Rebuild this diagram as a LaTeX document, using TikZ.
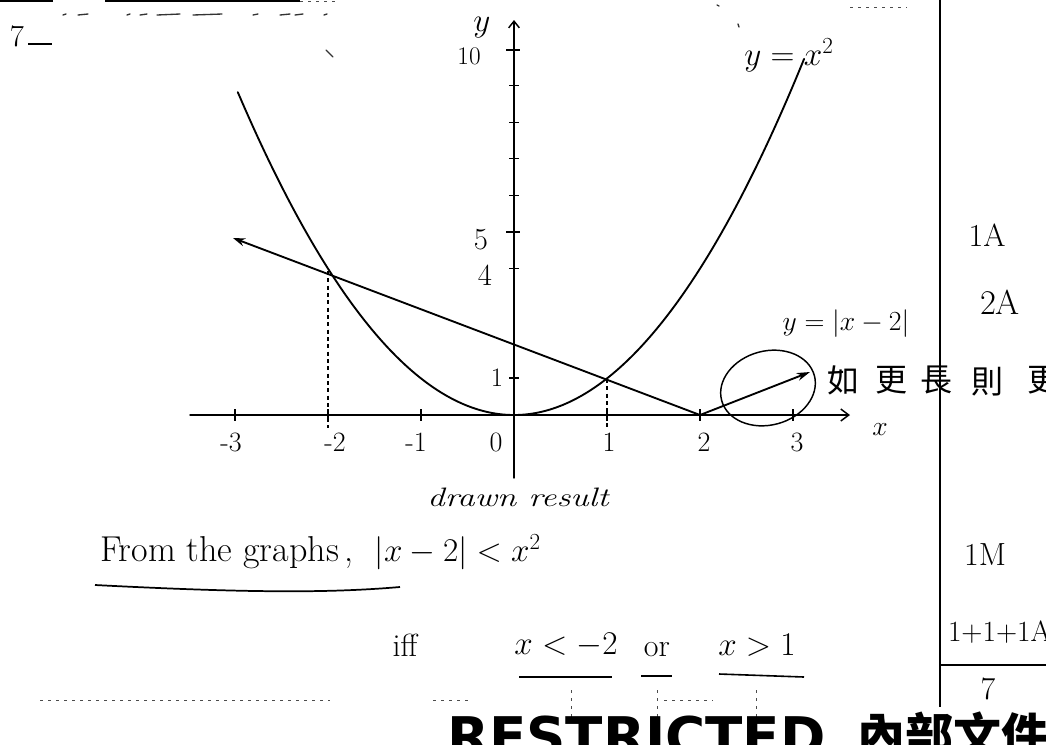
\documentclass[tikz,border=0pt]{standalone}
\usepackage{fontspec}
\newfontfamily\cjk{Noto Sans CJK TC}
\newfontfamily\rfont{DejaVu Sans}
\usetikzlibrary{arrows.meta}
\newcommand\hsz[1]{\fontsize{#1}{#1}\selectfont}
\begin{document}
\begin{tikzpicture}[x=0.75pt,y=-0.75pt,
  ink/.style={line width=1.4pt,line cap=round,line join=round},
  axisline/.style={line width=1.1pt,line cap=round},
  tickline/.style={line width=0.9pt},
  dashv/.style={line width=0.8pt,dash pattern=on 3pt off 2.5pt},
  noise/.style={line width=0.7pt,black!70,dash pattern=on 2pt off 4pt},
  speck/.style={line width=1pt,black!80,line cap=round},
  txt/.style={inner sep=0pt,outer sep=0pt},
]
\fill[white] (0,0) rectangle (1046,744);
\useasboundingbox (0,0) rectangle (1046,744);

% top rules and scanning specks
\draw[line width=1.6pt] (0,1) -- (53,1);
\draw[line width=1.6pt] (105,1) -- (300,1);
\draw[noise] (300,1) -- (335,1);
\foreach \a/\b in {63/66,78/88,127/130,140/147,157/180,193/222,253/258,280/290,295/303,324/327}
  \draw[speck] (\a,15) -- (\b,14);
\draw[speck] (326,50) -- (333,57);
\draw[speck] (717,5) -- (719,6);
\draw[speck] (738,24) -- (739,27);
\draw[noise] (850,7) -- (907,7);
\node[txt,font=\hsz{23}] (seven) at (17,36) {7};
\coordinate (su1) at (28,44); \coordinate (su2) at (52,44);
\draw[line width=1.2pt] (su1) -- (su2);

% axes
\coordinate (O) at (514,415);
\coordinate (xl) at (190,415); \coordinate (xr) at (850,415);
\coordinate (yb) at (514,478); \coordinate (yt) at (514,20);
\draw[axisline,-{Straight Barb[length=6pt,width=9pt]}] (xl) -- (xr);
\draw[axisline,-{Straight Barb[length=5pt,width=8pt]}] (yb) -- (yt);
\foreach \i in {-3,-2,-1,1,2,3} \draw[tickline] ({514+93*\i},409) -- ({514+93*\i},421);
\foreach \v in {4,6,7,8,9} \draw[tickline] (509,{415-36.6*\v}) -- (519,{415-36.6*\v});
\draw[tickline] (506,50) -- (520,50);
\draw[tickline] (506,232) -- (520,232);
\draw[tickline] (509,378) -- (519,378);

% axis labels
\node[txt,font=\hsz{21}] (lx1) at (231,442) {-3};
\node[txt,font=\hsz{21}] (lx2) at (335,442) {-2};
\node[txt,font=\hsz{21}] (lx3) at (416,442) {-1};
\node[txt,font=\hsz{21}] (lx4) at (496,442) {0};
\node[txt,font=\hsz{21}] (lx5) at (609,442) {1};
\node[txt,font=\hsz{21}] (lx6) at (704,442) {2};
\node[txt,font=\hsz{21}] (lx7) at (797,442) {3};
\node[txt,font=\hsz{22}] (xlab) at (880,430) {$x$};
\node[txt,font=\hsz{19}] (ten) at (469,56) {10};
\node[txt,font=\hsz{24}] (ylab) at (482,28) {$y$};
\node[txt,font=\hsz{23}] (five) at (481,240) {5};
\node[txt,font=\hsz{23}] (four) at (485,275) {4};
\node[txt,font=\hsz{20}] (one) at (497,378) {1};

% parabola
\draw[ink] plot[domain=-2.97:3.12,samples=90,smooth] ({514+93*\x},{415-36.6*\x*\x});
\node[txt,font=\hsz{25}] (lpar) at (789,55) {$y=x^2$};

% y = |x-2|
\coordinate (L1) at (233,238);
\coordinate (V) at (700,415);
\coordinate (L2) at (810,372);
\draw[ink,{Stealth[length=9pt,width=6pt]}-] (L1) -- (V);
\draw[ink,-{Stealth[length=10pt,width=6pt]}] (V) -- (L2);
\node[txt,font=\hsz{22}] (labs) at (846,324) {$y=|x-2|$};
\draw[line width=1.1pt,rotate around={15:(768,388)}] (768,388) ellipse [x radius=48,y radius=37];

% dashed drops
\coordinate (P1) at (328,271); \coordinate (P1b) at (328,428);
\coordinate (P2) at (607,379); \coordinate (P2b) at (607,428);
\draw[dashv] (P1) -- (P1b);
\draw[dashv] (P2) -- (P2b);

% marker comment
\node[txt,font=\cjk\hsz{24}] (c1) at (843,380) {如};
\node[txt,font=\cjk\hsz{24}] (c2) at (891,380) {更};
\node[txt,font=\cjk\hsz{24}] (c3) at (936,380) {長};
\node[txt,font=\cjk\hsz{24}] (c4) at (987,382) {則};
\node[txt,font=\cjk\hsz{24}] (c5) at (1043,380) {更};

% right column
\draw[line width=1.2pt] (940,0) -- (940,707);
\node[txt,font=\hsz{24}] (m1) at (987,235) {1A};
\node[txt,font=\hsz{26}] (m2) at (1000,302) {2A};
\node[txt,font=\hsz{24}] (m3) at (985,555) {1M};
\node[txt,font=\hsz{22},anchor=west] (m4) at (948,632) {1+1+1A};
\draw[line width=1.2pt] (940,665) -- (1046,665);
\node[txt,font=\hsz{24}] (m5) at (988,689) {7};

% working text
\node[txt,font=\itshape\hsz{20}] (drawn) at (518,497) {\scalebox{1.3}[1]{drawn result}};
\node[txt,font=\hsz{27},anchor=west] (from) at (100,552) {From the graphs\,,\; {\hsz{25}$|x-2|<x^2$}};
\draw[line width=1.3pt] (95,585) .. controls (250,593) and (330,593) .. (400,587);
\node[txt,font=\hsz{24}] (iff) at (405,645) {iff};
\node[txt,font=\hsz{24}] (s1) at (566,645) {$x<-2$};
\node[txt,font=\hsz{24}] (s2) at (657,650) {or};
\node[txt,font=\hsz{24}] (s3) at (757,645) {$x>1$};
\draw[line width=1.2pt] (519,677) -- (612,677);
\draw[line width=1.2pt] (641,676) -- (672,676);
\draw[line width=1.2pt] (719,674) -- (804,677);
\draw[noise] (571,690) -- (571,718);
\draw[noise] (657,690) -- (657,718);
\draw[noise] (756,690) -- (756,718);
\draw[noise] (433,700) -- (470,700);
\draw[noise] (664,700) -- (713,700);
\draw[noise] (40,700) -- (330,700);

% stamp at bottom, cut by the page edge
\node[txt,anchor=north west,font=\rfont\bfseries\hsz{41}] (restr) at (447,716) {RESTRICTED};
\node[txt,anchor=north west,font=\cjk\bfseries\hsz{36}] (intern) at (857,712) {內部文件};
\end{tikzpicture}
\end{document}
